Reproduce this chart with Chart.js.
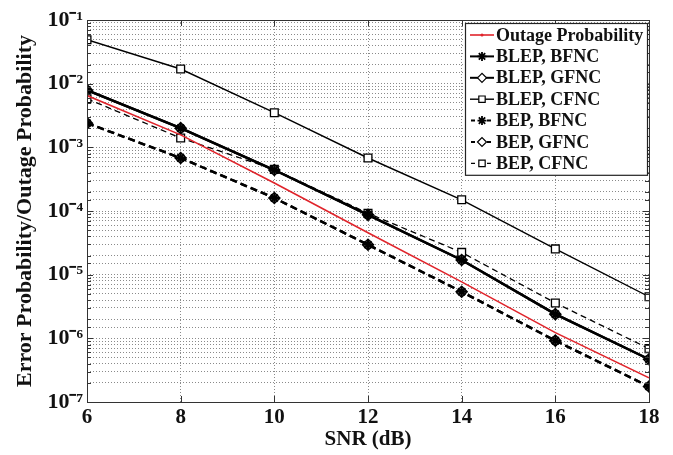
<!DOCTYPE html>
<html><head><meta charset="utf-8">
<script src="https://cdn.jsdelivr.net/npm/chart.js@4.4.0/dist/chart.umd.min.js"></script>
<style>html,body{margin:0;padding:0;background:#fff}</style>
</head><body>
<canvas id="c" width="673" height="455"></canvas>
<script>
// ---- data ----
const snr = [6, 8, 10, 12, 14, 16, 18];
const outage   = [6.5e-3, 1.57e-3, 2.75e-4, 4.55e-5, 7.7e-6, 1.23e-6, 2.4e-7];
const blepBFNC = [7.9e-3, 2.0e-3, 4.4e-4, 8.7e-5, 1.7e-5, 2.4e-6, 4.7e-7];
const blepGFNC = [7.9e-3, 2.0e-3, 4.4e-4, 8.7e-5, 1.7e-5, 2.4e-6, 4.7e-7];
const blepCFNC = [4.9e-2, 1.7e-2, 3.5e-3, 6.8e-4, 1.5e-4, 2.54e-5, 4.5e-6];
const bepBFNC  = [2.4e-3, 6.8e-4, 1.6e-4, 2.95e-5, 5.4e-6, 9.2e-7, 1.75e-7];
const bepGFNC  = [2.4e-3, 6.8e-4, 1.6e-4, 2.95e-5, 5.4e-6, 9.2e-7, 1.75e-7];
const bepCFNC  = [5.8e-3, 1.4e-3, 4.5e-4, 9.2e-5, 2.24e-5, 3.6e-6, 6.9e-7];
const seriesNames = ['Outage Probability','BLEP, BFNC','BLEP, GFNC','BLEP, CFNC','BEP, BFNC','BEP, GFNC','BEP, CFNC'];
const xTickValues = [6, 8, 10, 12, 14, 16, 18];
const yTickValues = [1e-7, 1e-6, 1e-5, 1e-4, 1e-3, 1e-2, 1e-1];
const yTickLabels = ['10⁻⁷','10⁻⁶','10⁻⁵','10⁻⁴','10⁻³','10⁻²','10⁻¹'];
const xTitle = 'SNR (dB)';
const yTitle = 'Error Probability/Outage Probability';

const SERIF = "'Liberation Serif','Times New Roman',serif";
const pts = arr => snr.map((x, i) => ({x, y: arr[i]}));

function ds(label, data, o) {
  return Object.assign({
    label, data: pts(data), borderColor: '#000', backgroundColor: '#000',
    borderWidth: 1.4, pointRadius: 0, pointHoverRadius: 0, tension: 0, fill: false,
    pointBorderColor: '#000', pointBackgroundColor: '#fff', pointBorderWidth: 1.3
  }, o);
}

const datasets = [
  ds(seriesNames[0], outage,   {borderColor: '#e0242b', backgroundColor: '#e0242b', borderWidth: 1.6, pointStyle: 'circle', legendDot: true}),
  ds(seriesNames[1], blepBFNC, {borderWidth: 2.4, pointStyle: 'star', pointRadius: 5, pointBorderWidth: 2.2, pointBackgroundColor: '#000'}),
  ds(seriesNames[2], blepGFNC, {borderWidth: 2.4, pointStyle: 'rectRot', pointRadius: 5.5, pointBorderWidth: 1.5}),
  ds(seriesNames[3], blepCFNC, {borderWidth: 1.4, pointStyle: 'rect', pointRadius: 5.5, pointBorderWidth: 1.3}),
  ds(seriesNames[4], bepBFNC,  {borderWidth: 2.4, borderDash: [7, 4], pointStyle: 'star', pointRadius: 5, pointBorderWidth: 2.2, pointBackgroundColor: '#000'}),
  ds(seriesNames[5], bepGFNC,  {borderWidth: 2.4, borderDash: [7, 4], pointStyle: 'rectRot', pointRadius: 5.5, pointBorderWidth: 1.5}),
  ds(seriesNames[6], bepCFNC,  {borderWidth: 1.3, borderDash: [6, 4], pointStyle: 'rect', pointRadius: 5.5, pointBorderWidth: 1.3})
];

const isMajor = v => yTickValues.findIndex(t => Math.abs(v / t - 1) < 1e-6);

const framePlugin = {
  id: 'frame',
  afterDatasetsDraw(chart) {
    const {ctx, chartArea: a, scales} = chart;
    ctx.save();
    ctx.strokeStyle = '#333';
    ctx.lineWidth = 1;
    ctx.setLineDash([]);
    ctx.beginPath();
    scales.y.ticks.forEach(t => {
      const y = Math.round(scales.y.getPixelForValue(t.value)) + 0.5;
      const len = isMajor(t.value) >= 0 ? 6 : 4;
      ctx.moveTo(a.left, y); ctx.lineTo(a.left + len, y);
      ctx.moveTo(a.right, y); ctx.lineTo(a.right - len, y);
    });
    scales.x.ticks.forEach(t => {
      const x = Math.round(scales.x.getPixelForValue(t.value)) + 0.5;
      ctx.moveTo(x, a.bottom); ctx.lineTo(x, a.bottom - 6);
      ctx.moveTo(x, a.top); ctx.lineTo(x, a.top + 6);
    });
    ctx.stroke();
    ctx.strokeRect(Math.round(a.left) + 0.5, Math.round(a.top) + 0.5, Math.round(a.right - a.left), Math.round(a.bottom - a.top));
    ctx.restore();
  },
  afterDraw(chart) {
    const {ctx, chartArea: a} = chart;
    const bx = 465, by = 23, bw = a.right - 2 - bx, rowH = 21.4, bh = rowH * seriesNames.length + 2;
    ctx.save();
    ctx.fillStyle = '#fff';
    ctx.fillRect(bx, by, bw, bh);
    ctx.strokeStyle = '#222';
    ctx.lineWidth = 1.2;
    ctx.setLineDash([]);
    ctx.strokeRect(bx + 0.5, by + 0.5, bw, bh);
    chart.data.datasets.forEach((d, i) => {
      const y = by + 12 + i * rowH;
      ctx.save();
      ctx.strokeStyle = d.borderColor;
      ctx.lineWidth = Math.min(d.borderWidth, 2);
      ctx.setLineDash(d.borderDash ? [4, 4] : []);
      ctx.lineDashOffset = d.borderDash ? -1 : 0;
      ctx.beginPath(); ctx.moveTo(470, y); ctx.lineTo(494, y); ctx.stroke();
      ctx.setLineDash([]);
      if (d.legendDot) {
        ctx.fillStyle = d.borderColor;
        ctx.beginPath(); ctx.arc(482, y, 1.5, 0, Math.PI * 2); ctx.fill();
      } else {
        ctx.strokeStyle = '#000';
        ctx.fillStyle = d.pointStyle === 'star' ? '#000' : '#fff';
        ctx.lineWidth = d.pointStyle === 'star' ? 1.8 : 1.2;
        Chart.helpers.drawPoint(ctx, {pointStyle: d.pointStyle, radius: 4.5, rotation: 0, borderWidth: ctx.lineWidth}, 482, y);
      }
      ctx.restore();
      ctx.fillStyle = '#111';
      ctx.font = "bold 18px " + SERIF;
      ctx.textBaseline = 'middle';
      ctx.textAlign = 'left';
      ctx.fillText(d.label, 496, y + 1);
    });
    ctx.restore();
  }
};

new Chart(document.getElementById('c'), {
  type: 'line',
  data: {datasets},
  plugins: [framePlugin],
  options: {
    responsive: false, animation: false, devicePixelRatio: 1,
    layout: {padding: {left: 0, right: 24, top: 20, bottom: 0}},
    plugins: {legend: {display: false}, tooltip: {enabled: false}},
    scales: {
      x: {
        type: 'linear', min: 6, max: 18,
        afterFit: s => { s.height = 53; },
        afterBuildTicks: s => { s.ticks = xTickValues.map(v => ({value: v})); },
        grid: {color: '#8a8a8a', lineWidth: 1, drawTicks: false},
        border: {display: false, dash: [1, 2]},
        ticks: {color: '#111', padding: 3, font: {family: SERIF, size: 21, weight: 'bold'}, maxRotation: 0},
        title: {display: true, text: xTitle, color: '#111', padding: {top: 0, bottom: 3}, font: {family: SERIF, size: 21, weight: 'bold'}}
      },
      y: {
        type: 'logarithmic', min: 1e-7, max: 1e-1,
        afterFit: s => { s.width = 87; },
        grid: {color: '#8a8a8a', lineWidth: 1, drawTicks: false},
        border: {display: false, dash: [1, 2]},
        ticks: {
          color: '#111', padding: 4, autoSkip: false,
          font: {family: SERIF, size: 22, weight: 'bold'},
          callback: v => { const k = isMajor(v); return k >= 0 ? yTickLabels[k] : ''; }
        },
        title: {display: true, text: yTitle, color: '#111', padding: {top: 12, bottom: 0}, font: {family: SERIF, size: 22, weight: 'bold'}}
      }
    }
  }
});
</script>
</body></html>
